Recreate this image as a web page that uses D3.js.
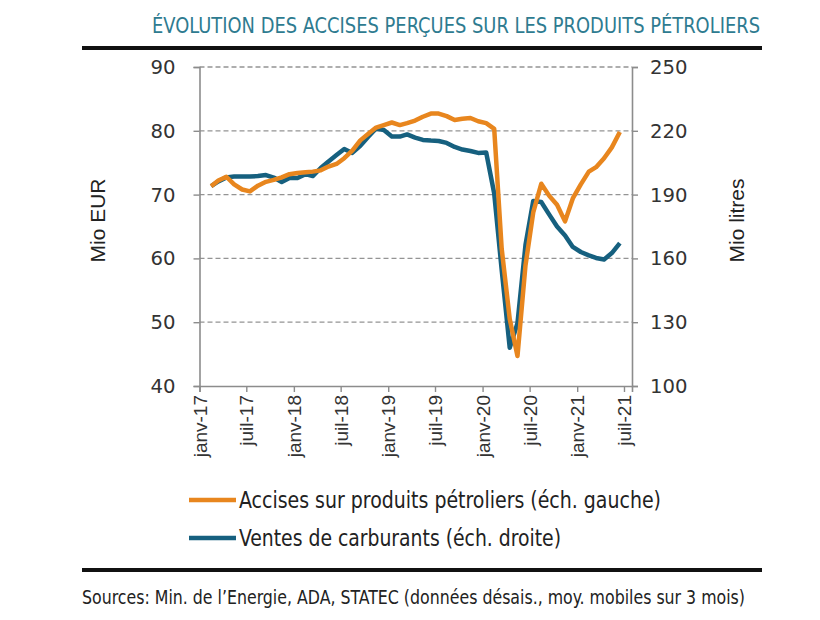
<!DOCTYPE html>
<meta charset="utf-8">
<html>
  <style>
    body { margin: 0; background: #fff; }
    .cond { font-family: "Liberation Sans Narrow", "DejaVu Sans Condensed", "DejaVu Sans", sans-serif; }
    .line { fill: none; stroke-width: 4.5px; stroke-linejoin: round; }
    .grid line { stroke: #949494; stroke-width: 1.3px; stroke-dasharray: 5,3; }
  </style>
  <head>
    <script src="https://d3js.org/d3.v7.min.js"></script>
  </head>
  <body>
    <script>
      // data (3-month moving averages, Feb 2017 - Jun 2021)
      var firstMonth = new Date(2017, 1, 1),
          endMonth = new Date(2021, 6, 1);
      var accises = [71.3, 72.2, 72.8, 71.6, 70.8, 70.5, 71.4, 72.0, 72.3, 72.7, 73.2, 73.4,
                     73.5, 73.6, 73.8, 74.4, 74.8, 75.7, 76.9, 78.5, 79.5, 80.5, 80.9, 81.3,
                     80.9, 81.2, 81.6, 82.2, 82.7, 82.7, 82.3, 81.7, 81.9, 82.0, 81.5, 81.2,
                     80.3, 61.5, 50.5, 44.7, 58.9, 67.2, 71.7, 69.8, 68.4, 65.8, 69.4, 71.6,
                     73.6, 74.3, 75.7, 77.4, 79.8];
      var ventes = [194.0, 196.2, 198.1, 198.5, 198.5, 198.5, 198.7, 199.2, 198.0, 195.9, 197.8, 197.8,
                    199.6, 198.7, 202.5, 205.6, 208.6, 211.4, 209.6, 212.9, 217.1, 221.1, 220.4, 217.3,
                    217.3, 218.3, 216.8, 215.7, 215.4, 215.2, 214.3, 212.4, 211.2, 210.5, 209.6, 209.8,
                    190.5, 154.5, 118.0, 129.5, 166.3, 187.0, 186.5, 180.6, 175.0, 170.8, 165.4, 163.0,
                    161.4, 160.2, 159.5, 162.5, 167.2];
      var tickLabels = ["janv-17", "juil-17", "janv-18", "juil-18", "janv-19",
                        "juil-19", "janv-20", "juil-20", "janv-21", "juil-21"];
      var leftTicks = [40, 50, 60, 70, 80, 90],
          rightTicks = [100, 130, 160, 190, 220, 250];

      var months = d3.timeMonth.range(firstMonth, d3.timeMonth.offset(endMonth, 1));
      var tickDates = tickLabels.map(function(d, i) { return d3.timeMonth.offset(new Date(2017, 0, 1), i * 6); });

      var margin = {top: 67, right: 188, bottom: 234, left: 199.5},
          W = 820, H = 620,
          width = W - margin.left - margin.right,
          height = H - margin.top - margin.bottom;

      var svg = d3.select("body").append("svg")
          .attr("width", W)
          .attr("height", H);

      // title and rules
      svg.append("text").attr("class", "cond")
         .attr("x", 152).attr("y", 33)
         .attr("textLength", 608).attr("lengthAdjust", "spacingAndGlyphs")
         .style("font-size", "21px")
         .style("fill", "#2e7b90")
         .text("ÉVOLUTION DES ACCISES PERÇUES SUR LES PRODUITS PÉTROLIERS");
      svg.append("rect").attr("x", 82).attr("y", 46).attr("width", 680).attr("height", 4).attr("fill", "#111");
      svg.append("rect").attr("x", 82).attr("y", 568).attr("width", 680).attr("height", 4).attr("fill", "#111");

      var g = svg.append("g")
          .attr("transform", "translate(" + margin.left + "," + margin.top + ")");

      //scales
      var x = d3.scaleTime()
          .domain([new Date(2017, 0, 1), new Date(2021, 7, 1)])
          .range([0, width]);
      var yL = d3.scaleLinear().domain([40, 90]).range([height, 0]);
      var yR = d3.scaleLinear().domain([100, 250]).range([height, 0]);

      // dashed grid
      g.append("g").attr("class", "grid")
       .selectAll("line").data(leftTicks.slice(1)).enter().append("line")
       .attr("x1", 0).attr("x2", width)
       .attr("y1", function(d) { return yL(d); })
       .attr("y2", function(d) { return yL(d); });

      //axes
      var axL = g.append("g").attr("class", "cond")
          .call(d3.axisLeft(yL).tickValues(leftTicks).tickSize(6).tickPadding(18));
      var axR = g.append("g").attr("class", "cond")
          .attr("transform", "translate(" + width + ",0)")
          .call(d3.axisRight(yR).tickValues(rightTicks).tickSize(6).tickPadding(12));
      var axB = g.append("g")
          .attr("transform", "translate(0," + height + ")")
          .call(d3.axisBottom(x).tickValues(tickDates).tickSize(6)
                .tickFormat(function(d, i) { return tickLabels[i]; }));

      [axL, axR, axB].forEach(function(ax) {
        ax.select(".domain").attr("stroke", "#8c8c8c").attr("stroke-width", 1.6);
        ax.selectAll(".tick line").attr("stroke", "#8c8c8c").attr("stroke-width", 1.4);
      });
      [axL, axR].forEach(function(ax) {
        ax.selectAll("text")
          .attr("font-family", null)
          .style("font-size", "20px").style("fill", "#333")
          .attr("lengthAdjust", "spacingAndGlyphs")
          .attr("textLength", function(d) { return String(d).length * 12.5; });
      });
      axB.selectAll("text")
         .attr("font-family", "Liberation Sans, Arial, sans-serif")
         .style("font-size", "19px").style("fill", "#333")
         .attr("text-anchor", "end")
         .attr("transform", "rotate(-90)")
         .attr("x", -9).attr("y", 0).attr("dy", "0.35em");

      // axis titles
      g.append("text")
       .attr("transform", "translate(" + (-95) + "," + (height / 2 - 6) + ")rotate(-90)")
       .attr("text-anchor", "middle")
       .attr("font-family", "Liberation Sans, Arial, sans-serif")
       .style("font-size", "21px").style("fill", "#222")
       .text("Mio EUR");
      g.append("text")
       .attr("transform", "translate(" + (width + 112) + "," + (height / 2 - 6) + ")rotate(-90)")
       .attr("text-anchor", "middle")
       .attr("font-family", "Liberation Sans, Arial, sans-serif")
       .style("font-size", "21px").style("fill", "#222")
       .text("Mio litres");

      //define the lines
      var mid = function(i) { return d3.timeDay.offset(months[i], 14); };
      var lineL = d3.line()
          .x(function(d, i) { return x(mid(i)); })
          .y(function(d) { return yL(d); });
      var lineR = d3.line()
          .x(function(d, i) { return x(mid(i)); })
          .y(function(d) { return yR(d); });

      g.append("path").datum(ventes).attr("class", "line")
       .attr("d", lineR).style("stroke", "#16607f");
      g.append("path").datum(accises).attr("class", "line")
       .attr("d", lineL).style("stroke", "#e8861e");

      // legend
      var legend = [
        {name: "Accises sur produits pétroliers (éch. gauche)", color: "#e8861e", w: 422},
        {name: "Ventes de carburants (éch. droite)", color: "#16607f", w: 322}
      ];
      var lg = svg.append("g").selectAll("g").data(legend).enter().append("g")
          .attr("transform", function(d, i) { return "translate(189," + (500 + i * 38) + ")"; });
      lg.append("line").attr("x1", 0).attr("x2", 47)
        .attr("stroke", function(d) { return d.color; })
        .attr("stroke-width", 4.5);
      lg.append("text").attr("class", "cond")
        .attr("x", 50).attr("dy", "0.35em")
        .attr("textLength", function(d) { return d.w; })
        .attr("lengthAdjust", "spacingAndGlyphs")
        .style("font-size", "23px").style("fill", "#222")
        .text(function(d) { return d.name; });

      svg.append("text").attr("class", "cond")
         .attr("x", 82).attr("y", 604)
         .attr("textLength", 663).attr("lengthAdjust", "spacingAndGlyphs")
         .style("font-size", "19px").style("fill", "#222")
         .text("Sources: Min. de l’Energie, ADA, STATEC (données désais., moy. mobiles sur 3 mois)");
    </script>
  </body>
</html>
